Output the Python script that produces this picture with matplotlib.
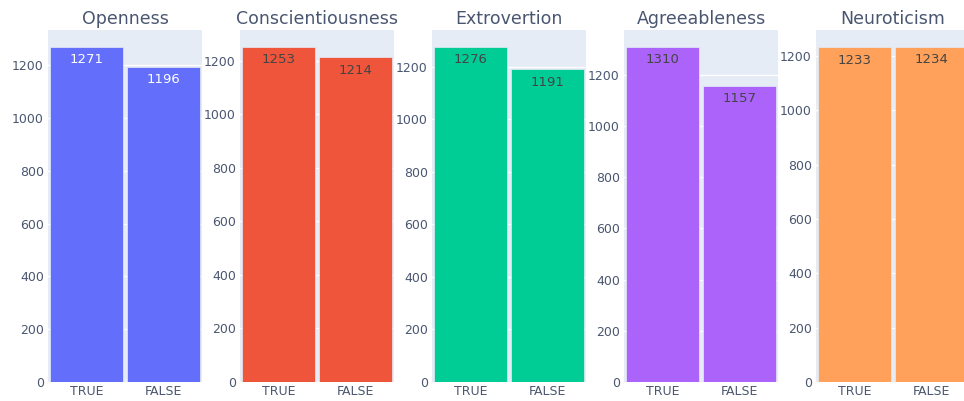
import matplotlib
matplotlib.use("Agg")
import matplotlib.pyplot as plt

traits = ["Openness", "Conscientiousness", "Extrovertion", "Agreeableness", "Neuroticism"]
categories = ["TRUE", "FALSE"]
true_counts = [1271, 1253, 1276, 1310, 1233]
false_counts = [1196, 1214, 1191, 1157, 1234]
colors = ["#636EFA", "#EF553B", "#00CC96", "#AB63FA", "#FFA15A"]
text_colors = ["white", "#444444", "#444444", "#444444", "#444444"]

plt.rcParams['font.family'] = ['DejaVu Sans']

W, H = 964, 401
fig = plt.figure(figsize=(W / 100, H / 100), dpi=100)
fig.patch.set_facecolor("white")

ax_left0 = 48
ax_w = 154
step = 192
ax_top = 30
ax_bot = 382

for i, trait in enumerate(traits):
    left = ax_left0 + i * step
    ax = fig.add_axes([left / W, 1 - ax_bot / H, ax_w / W, (ax_bot - ax_top) / H])
    ax.set_facecolor("#E5ECF6")
    vals = [true_counts[i], false_counts[i]]
    ymax = max(vals) * 1.05
    ax.set_ylim(0, ymax)
    ax.set_xlim(-0.5, 1.5)
    ax.set_yticks(range(0, int(ymax) + 1, 200))
    ax.yaxis.grid(True, color="white", linewidth=1)
    ax.set_axisbelow(True)
    bars = ax.bar(range(len(categories)), vals, width=0.95, color=colors[i],
                  edgecolor="#E5ECF6", linewidth=0.5)
    for b, v in zip(bars, vals):
        ax.annotate(str(v), (b.get_x() + b.get_width() / 2, v), xytext=(0, -13),
                    textcoords="offset pixels", ha="center", va="center",
                    fontsize=9.5, color=text_colors[i])
    ax.set_xticks(range(len(categories)))
    ax.set_xticklabels(categories)
    for s in ax.spines.values():
        s.set_visible(False)
    ax.tick_params(axis="both", length=0, colors="#4a5670", labelsize=9)
    ax.tick_params(axis="y", pad=3)
    ax.tick_params(axis="x", pad=2)
    ax.set_title(trait, fontsize=12.5, color="#4a5670", pad=4)

fig.savefig("out.png", dpi=100, facecolor="white")
